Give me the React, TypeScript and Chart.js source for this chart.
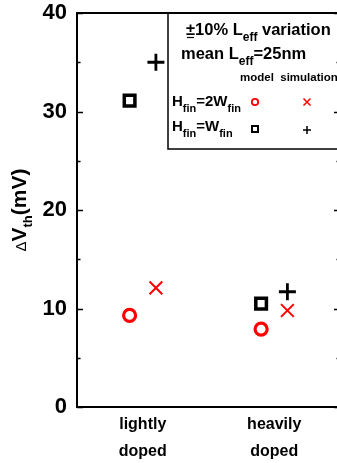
import React, { useEffect, useRef } from "react";
import { Chart, registerables } from "chart.js";

Chart.register(...registerables);

// ---- data ----
const categories = [["lightly", "doped"], ["heavily", "doped"]];
const categoryPos = [1, 2];
const modelOffset = -0.1;
const simOffset = 0.1;
const modelHfin2W = [9.3, 7.9];
const simHfin2W = [12.1, 9.8];
const modelHfinW = [31.1, 10.5];
const simHfinW = [35.0, 11.7];
const yMajorTicks = [0, 10, 20, 30, 40];
const yMinorTicks = [5, 15, 25, 35];

const FONT = "'Liberation Sans', Arial, sans-serif";
const RED = "#ff0000";

type Part = { t: string; sub?: boolean };

function drawRich(ctx: CanvasRenderingContext2D, parts: Part[], x: number, y: number, main: string, sub: string, subDy: number) {
  let cx = x;
  for (const p of parts) {
    ctx.font = p.sub ? sub : main;
    ctx.fillText(p.t, cx, p.sub ? y + subDy : y);
    cx += ctx.measureText(p.t).width;
  }
  return cx;
}

const decorPlugin = {
  id: "decor",
  afterDraw(chart: any) {
    const { ctx, chartArea } = chart;
    const { left, right, top, bottom } = chartArea;
    const y = chart.scales.y;
    ctx.save();
    ctx.strokeStyle = "#000";
    ctx.lineWidth = 2;
    ctx.strokeRect(left, top, right - left, bottom - top);
    ctx.lineWidth = 1.5;
    for (const v of yMajorTicks) {
      const py = Math.round(y.getPixelForValue(v)) + 0.5;
      ctx.beginPath();
      ctx.moveTo(left, py); ctx.lineTo(left + 6, py);
      ctx.moveTo(right, py); ctx.lineTo(right - 6, py);
      ctx.stroke();
    }
    for (const v of yMinorTicks) {
      const py = Math.round(y.getPixelForValue(v)) + 0.5;
      ctx.beginPath();
      ctx.moveTo(left, py); ctx.lineTo(left + 3.5, py);
      ctx.moveTo(right, py); ctx.lineTo(right - 3.5, py);
      ctx.stroke();
    }

    // y axis title, rotated
    ctx.save();
    ctx.translate(26, (top + bottom) / 2);
    ctx.rotate(-Math.PI / 2);
    ctx.fillStyle = "#000";
    ctx.textBaseline = "alphabetic";
    const tParts: Part[] = [{ t: "\u0394" }, { t: "V" }, { t: "th", sub: true }, { t: "(mV)" }];
    let w = 0;
    const mainF = `bold 21px ${FONT}`;
    const subF = `bold 13px ${FONT}`;
    const deltaF = `15px ${FONT}`;
    for (const p of tParts) {
      ctx.font = p.t === "\u0394" ? deltaF : p.sub ? subF : mainF;
      w += ctx.measureText(p.t).width;
    }
    let cx = -w / 2;
    for (const p of tParts) {
      ctx.font = p.t === "\u0394" ? deltaF : p.sub ? subF : mainF;
      ctx.fillText(p.t, cx, p.sub ? 6 : 0);
      cx += ctx.measureText(p.t).width;
    }
    ctx.restore();

    // legend box
    const bx = 168, by = top, bb = 149;
    ctx.lineWidth = 1.5;
    ctx.strokeStyle = "#000";
    ctx.beginPath();
    ctx.moveTo(right + 10, by);
    ctx.lineTo(bx, by);
    ctx.lineTo(bx, bb);
    ctx.lineTo(right + 10, bb);
    ctx.stroke();

    ctx.fillStyle = "#000";
    ctx.textBaseline = "alphabetic";
    const lf = `bold 16.5px ${FONT}`;
    const ls = `bold 12px ${FONT}`;
    ctx.font = lf;
    const pmW = ctx.measureText("\u00b1").width;
    drawRich(ctx, [{ t: "\u00b110% L" }, { t: "eff", sub: true }, { t: " variation" }], 186, 35, lf, ls, 6);
    ctx.lineWidth = 1.2;
    ctx.beginPath();
    ctx.moveTo(187, 37.5); ctx.lineTo(186 + pmW - 1, 37.5);
    ctx.stroke();
    drawRich(ctx, [{ t: "mean L" }, { t: "eff", sub: true }, { t: "=25nm" }], 181, 59, lf, ls, 6);
    ctx.font = `bold 11.5px ${FONT}`;
    ctx.textAlign = "center";
    ctx.fillText("model", 257, 81);
    ctx.fillText("simulation", 309, 81);
    ctx.textAlign = "left";
    const hf = `bold 15px ${FONT}`;
    const hs = `bold 11px ${FONT}`;
    drawRich(ctx, [{ t: "H" }, { t: "fin", sub: true }, { t: "=2W" }, { t: "fin", sub: true }], 172, 106, hf, hs, 6);
    drawRich(ctx, [{ t: "H" }, { t: "fin", sub: true }, { t: "=W" }, { t: "fin", sub: true }], 172, 131, hf, hs, 6);

    ctx.strokeStyle = RED;
    ctx.lineWidth = 1.8;
    ctx.beginPath();
    ctx.arc(255, 102, 3.2, 0, Math.PI * 2);
    ctx.stroke();
    ctx.lineWidth = 1.5;
    ctx.beginPath();
    ctx.moveTo(303.5, 98.5); ctx.lineTo(310.5, 105.5);
    ctx.moveTo(310.5, 98.5); ctx.lineTo(303.5, 105.5);
    ctx.stroke();
    ctx.strokeStyle = "#000";
    ctx.lineWidth = 2;
    ctx.strokeRect(252, 126, 6, 6);
    ctx.lineWidth = 1.5;
    ctx.beginPath();
    ctx.moveTo(303, 130); ctx.lineTo(311, 130);
    ctx.moveTo(307, 126); ctx.lineTo(307, 134);
    ctx.stroke();

    ctx.restore();
  },
};

export default function App() {
  const ref = useRef<HTMLCanvasElement>(null);
  useEffect(() => {
    if (!ref.current) return;
    const chart = new Chart(ref.current, {
      type: "scatter",
      data: {
        datasets: [
          {
            label: "model Hfin=2Wfin",
            data: modelHfin2W.map((v, i) => ({ x: categoryPos[i] + modelOffset, y: v })),
            pointStyle: "circle",
            pointRadius: 6,
            borderColor: RED,
            backgroundColor: "rgba(0,0,0,0)",
            pointBorderWidth: 3.2,
          },
          {
            label: "simulation Hfin=2Wfin",
            data: simHfin2W.map((v, i) => ({ x: categoryPos[i] + simOffset, y: v })),
            pointStyle: "crossRot",
            pointRadius: 9,
            borderColor: RED,
            backgroundColor: RED,
            pointBorderWidth: 2,
          },
          {
            label: "model Hfin=Wfin",
            data: modelHfinW.map((v, i) => ({ x: categoryPos[i] + modelOffset, y: v })),
            pointStyle: "rect",
            pointRadius: 7.5,
            borderColor: "#000",
            backgroundColor: "rgba(0,0,0,0)",
            pointBorderWidth: 3.5,
          },
          {
            label: "simulation Hfin=Wfin",
            data: simHfinW.map((v, i) => ({ x: categoryPos[i] + simOffset, y: v })),
            pointStyle: "cross",
            pointRadius: 8.5,
            borderColor: "#000",
            backgroundColor: "#000",
            pointBorderWidth: 2.8,
          },
        ],
      },
      options: {
        responsive: false,
        animation: false,
        layout: { autoPadding: false, padding: { top: 13, right: 2, left: 0, bottom: 0 } },
        plugins: { legend: { display: false }, tooltip: { enabled: false } },
        scales: {
          x: {
            type: "linear",
            min: 0.5,
            max: 2.5,
            grid: { display: false },
            border: { display: false },
            afterBuildTicks: (scale: any) => {
              scale.ticks = categoryPos.map((v) => ({ value: v }));
            },
            afterFit: (scale: any) => {
              scale.height = 56;
              scale.paddingLeft = 0;
              scale.paddingRight = 0;
            },
            ticks: {
              autoSkip: false,
              maxRotation: 0,
              padding: -4,
              color: "#000",
              font: { family: FONT, size: 16, weight: "bold", lineHeight: 1.7 },
              callback: (value: any) => {
                const i = categoryPos.indexOf(Number(value));
                return i >= 0 ? categories[i] : "";
              },
            },
          },
          y: {
            min: 0,
            max: 40,
            grid: { display: false },
            border: { display: false },
            afterFit: (scale: any) => {
              scale.width = 77;
              scale.paddingTop = 0;
              scale.paddingBottom = 0;
            },
            ticks: {
              stepSize: 10,
              padding: 2,
              color: "#000",
              font: { family: FONT, size: 22, weight: "bold" },
            },
          },
        },
      },
      plugins: [decorPlugin],
    } as any);
    return () => chart.destroy();
  }, []);

  return (
    <div style={{ position: "fixed", left: 0, top: 0, width: 337, height: 463, overflow: "hidden", background: "#fff" }}>
      <canvas ref={ref} width={342} height={463} style={{ display: "block" }} />
    </div>
  );
}
